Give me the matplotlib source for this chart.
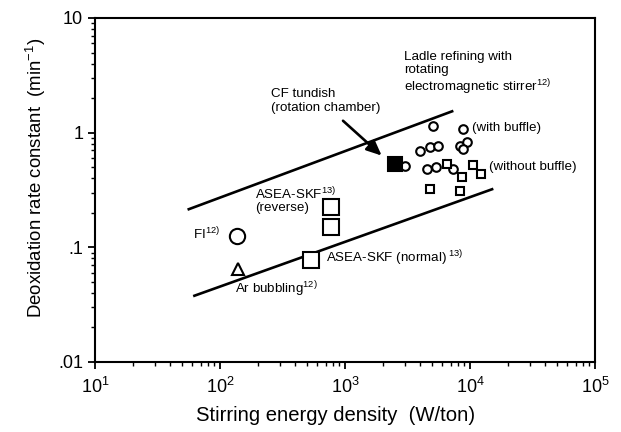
import matplotlib
matplotlib.use("Agg")
import matplotlib.pyplot as plt
import numpy as np

plt.rcParams['font.family'] = ['Liberation Sans', 'DejaVu Sans']
plt.rcParams['mathtext.fontset'] = 'custom'
plt.rcParams['mathtext.rm'] = 'Liberation Sans'
plt.rcParams['mathtext.it'] = 'Liberation Sans:italic'
plt.rcParams['mathtext.bf'] = 'Liberation Sans:bold'

# ---- data ----
# Ladle refining with rotating EM stirrer, with buffle (circles)
with_buffle_x = [3020, 5090, 8840, 3981, 4786, 5575, 8318, 9410, 8840, 4500, 5346, 7356]
with_buffle_y = [0.516, 1.15, 1.08, 0.697, 0.745, 0.771, 0.771, 0.824, 0.721, 0.483, 0.506, 0.483]
# without buffle (small squares)
without_buffle_x = [6500, 8570, 10630, 12170, 4786, 8318]
without_buffle_y = [0.534, 0.408, 0.527, 0.438, 0.324, 0.313]
# CF tundish (filled square)
cf_x = [2512]
cf_y = [0.534]
# ASEA-SKF reverse
asea_rev_x = [773, 773]
asea_rev_y = [0.224, 0.150]
# ASEA-SKF normal
asea_norm_x = [535]
asea_norm_y = [0.077]
# FI
fi_x = [137]
fi_y = [0.125]
# Ar bubbling
ar_x = [140]
ar_y = [0.065]
# Envelope lines
upper_line_x = [55, 7360]
upper_line_y = [0.213, 1.55]
lower_line_x = [61, 15370]
lower_line_y = [0.0375, 0.324]

x_ticks = [10, 100, 1000, 10000, 100000]
x_tick_labels = [r'$10^1$', r'$10^2$', r'$10^3$', r'$10^4$', r'$10^5$']
y_ticks = [0.01, 0.1, 1, 10]
y_tick_labels = ['.01', '.1', '1', '10']

fig = plt.figure(figsize=(6.21, 4.32), dpi=100)
ax = fig.add_axes([95/621, 1-362/432, 500/621, 344/432])
ax.set_xscale('log')
ax.set_yscale('log')
ax.set_xlim(10, 1e5)
ax.set_ylim(0.01, 10)

lw = 1.9
ax.plot(upper_line_x, upper_line_y, color='black', lw=lw, solid_capstyle='butt')
ax.plot(lower_line_x, lower_line_y, color='black', lw=lw, solid_capstyle='butt')

ms_small = 6.2
mew = 1.5
ax.plot(with_buffle_x, with_buffle_y, 'o', mfc='white', mec='black', ms=ms_small, mew=mew, ls='none')
ax.plot(without_buffle_x, without_buffle_y, 's', mfc='white', mec='black', ms=ms_small, mew=mew, ls='none')
ax.plot(cf_x, cf_y, 's', mfc='black', mec='black', ms=9.5, mew=mew, ls='none')
ax.plot(asea_rev_x, asea_rev_y, 's', mfc='white', mec='black', ms=11, mew=mew, ls='none')
ax.plot(asea_norm_x, asea_norm_y, 's', mfc='white', mec='black', ms=11, mew=mew, ls='none')
ax.plot(fi_x, fi_y, 'o', mfc='white', mec='black', ms=11, mew=mew, ls='none')
ax.plot(ar_x, ar_y, '^', mfc='white', mec='black', ms=8.5, mew=mew, ls='none')

# arrow for CF tundish
ax.annotate('', xy=(1965, 0.631), xytext=(964, 1.27),
            arrowprops=dict(arrowstyle='-|>,head_length=0.9,head_width=0.4',
                            color='black', lw=1.9, shrinkA=0, shrinkB=0))

fs = 9.6


def px2data(px, py):
    x = 10 ** (1 + (px - 95) / 125.0)
    y = 10 ** (1 - (py - 18) / 114.7)
    return x, y


ax.text(*px2data(404, 51), 'Ladle refining with\nrotating\nelectromagnetic stirrer$^{12)}$',
        fontsize=fs, va='top', ha='left', linespacing=1.12)
ax.text(*px2data(271, 88), 'CF tundish\n(rotation chamber)', fontsize=fs, va='top', ha='left',
        linespacing=1.17)
ax.text(*px2data(472, 128), '(with buffle)', fontsize=fs, va='center', ha='left')
ax.text(*px2data(489, 167), '(without buffle)', fontsize=fs, va='center', ha='left')
ax.text(*px2data(255, 186), 'ASEA-SKF$^{13)}$\n(reverse)', fontsize=fs, va='top', ha='left',
        linespacing=0.95)
ax.text(*px2data(193, 234), 'FI$^{12)}$', fontsize=fs, va='center', ha='left')
ax.text(*px2data(326, 258), 'ASEA-SKF (normal)$^{\\ 13)}$', fontsize=fs, va='center', ha='left')
ax.text(*px2data(235, 289), 'Ar bubbling$^{12)}$', fontsize=fs, va='center', ha='left')

ax.set_xticks(x_ticks)
ax.set_xticklabels(x_tick_labels)
ax.set_yticks(y_ticks)
ax.set_yticklabels(y_tick_labels)
ax.tick_params(axis='both', which='major', direction='out', length=5, width=1.3,
               labelsize=13, top=False, right=False)
ax.tick_params(axis='both', which='minor', direction='out', length=3, width=1.0,
               top=False, right=False)
ax.tick_params(axis='x', pad=6)
for s in ax.spines.values():
    s.set_linewidth(1.5)

ax.set_xlabel('Stirring energy density  (W/ton)', fontsize=14.6)
ax.set_ylabel('Deoxidation rate constant  (min$^{-1}$)', fontsize=13.4)
ax.xaxis.set_label_coords(0.482, -0.128)
ax.yaxis.set_label_coords(-0.095, 0.535)

fig.savefig('out.png', dpi=100)
